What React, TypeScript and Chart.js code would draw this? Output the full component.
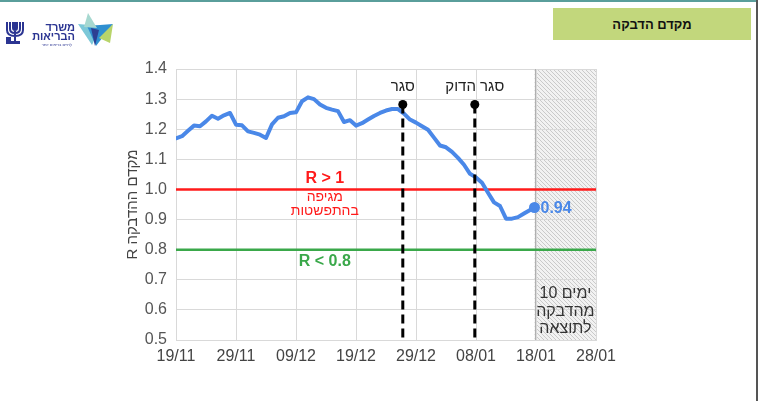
import React, { useEffect, useRef } from "react";
import { Chart, registerables } from "chart.js";

Chart.register(...registerables);

// ---- data ----
const xTickLabels = ["19/11", "29/11", "09/12", "19/12", "29/12", "08/01", "18/01", "28/01"];
const yTicks = [0.5, 0.6, 0.7, 0.8, 0.9, 1.0, 1.1, 1.2, 1.3, 1.4];
// daily R values from 19/11 (day 0) onward
const rValues = [
  1.17, 1.177, 1.195, 1.212, 1.21, 1.226, 1.245, 1.235, 1.246, 1.254,
  1.215, 1.213, 1.193, 1.188, 1.182, 1.171, 1.216, 1.238, 1.243, 1.254,
  1.256, 1.293, 1.306, 1.3, 1.282, 1.271, 1.265, 1.26, 1.224, 1.23,
  1.212, 1.22, 1.232, 1.244, 1.254, 1.262, 1.267, 1.267, 1.252, 1.232,
  1.222, 1.21, 1.198, 1.172, 1.146, 1.14, 1.125, 1.105, 1.082, 1.052,
  1.04, 1.022, 0.989, 0.957, 0.945, 0.903, 0.903, 0.908, 0.92,
];
const reportDay = 59.75;
const reportValue = 0.94;
const lockdownDays = [37.8, 49.8];
const lockdownLabels = ["סגר", "סגר הדוק"];
const lockdownTop = 1.282;
const thresholdHigh = 1.0;
const thresholdLow = 0.8;

const FONT = "'Liberation Sans', Arial, 'DejaVu Sans', sans-serif";
const BLUE = "#4a88e8";

function makeHatch(ctx: CanvasRenderingContext2D) {
  const pc = document.createElement("canvas");
  pc.width = 4;
  pc.height = 4;
  const p = pc.getContext("2d")!;
  p.fillStyle = "#f2f2f2";
  p.fillRect(0, 0, 4, 4);
  p.strokeStyle = "#cacaca";
  p.lineWidth = 1;
  p.beginPath();
  p.moveTo(-1, -1);
  p.lineTo(5, 5);
  p.moveTo(-1, 3);
  p.lineTo(1, 5);
  p.moveTo(3, -1);
  p.lineTo(5, 1);
  p.stroke();
  return ctx.createPattern(pc, "repeat");
}

const annotPlugin = {
  id: "annot",
  beforeDraw(chart: any) {
    const { ctx, chartArea, scales } = chart;
    const x = scales.x;
    ctx.save();
    ctx.fillStyle = "#ffffff";
    ctx.fillRect(0, 0, chart.width, chart.height);
    const x0 = x.getPixelForValue(reportDay);
    const pat = makeHatch(ctx);
    if (pat) ctx.fillStyle = pat;
    ctx.fillRect(x0, chartArea.top, chartArea.right - x0, chartArea.bottom - chartArea.top);
    ctx.restore();
  },
  beforeDatasetsDraw(chart: any) {
    const { ctx, chartArea, scales } = chart;
    const x = scales.x, y = scales.y;
    ctx.save();
    const x0 = x.getPixelForValue(reportDay);
    ctx.strokeStyle = "#b0b0b0";
    ctx.lineWidth = 1;
    ctx.beginPath();
    ctx.moveTo(Math.round(x0) + 0.5, chartArea.top);
    ctx.lineTo(Math.round(x0) + 0.5, chartArea.bottom);
    ctx.stroke();
    // threshold lines
    ctx.lineWidth = 2.5;
    ctx.strokeStyle = "#ff1a1a";
    ctx.beginPath();
    ctx.moveTo(chartArea.left, y.getPixelForValue(thresholdHigh));
    ctx.lineTo(chartArea.right, y.getPixelForValue(thresholdHigh));
    ctx.stroke();
    ctx.strokeStyle = "#3aa84a";
    ctx.beginPath();
    ctx.moveTo(chartArea.left, y.getPixelForValue(thresholdLow));
    ctx.lineTo(chartArea.right, y.getPixelForValue(thresholdLow));
    ctx.stroke();
    ctx.restore();
  },
  afterDatasetsDraw(chart: any) {
    const { ctx, chartArea, scales } = chart;
    const x = scales.x, y = scales.y;
    ctx.save();
    ctx.direction = "ltr";
    // lockdown dashed lines
    lockdownDays.forEach((d, i) => {
      const px = x.getPixelForValue(d);
      const py = y.getPixelForValue(lockdownTop);
      ctx.setLineDash([9, 5]);
      ctx.lineWidth = 3;
      ctx.strokeStyle = "#000";
      ctx.beginPath();
      ctx.moveTo(px, py);
      ctx.lineTo(px, chartArea.bottom);
      ctx.stroke();
      ctx.setLineDash([]);
      ctx.fillStyle = "#000";
      ctx.beginPath();
      ctx.arc(px, py, 4.5, 0, Math.PI * 2);
      ctx.fill();
      ctx.font = `15px ${FONT}`;
      ctx.fillStyle = "#222";
      ctx.textAlign = "center";
      ctx.textBaseline = "middle";
      ctx.fillText(lockdownLabels[i], px, y.getPixelForValue(1.341));
    });
    // threshold labels
    const lx = x.getPixelForValue(24.8);
    ctx.textAlign = "center";
    ctx.textBaseline = "middle";
    ctx.fillStyle = "#ff1a1a";
    ctx.font = `bold 16px ${FONT}`;
    ctx.fillText("R > 1", lx, y.getPixelForValue(1.037));
    ctx.font = `14px ${FONT}`;
    ctx.fillText("מגיפה", lx, y.getPixelForValue(0.974));
    ctx.fillText("בהתפשטות", lx, y.getPixelForValue(0.928));
    ctx.fillStyle = "#3aa84a";
    ctx.font = `bold 16px ${FONT}`;
    ctx.fillText("R < 0.8", lx, y.getPixelForValue(0.762));
    // last value label
    ctx.fillStyle = BLUE;
    ctx.textAlign = "left";
    ctx.fillText(reportValue.toFixed(2), x.getPixelForValue(reportDay) + 6, y.getPixelForValue(reportValue) + 1);
    // hatch note
    const hx = x.getPixelForValue(64.9);
    ctx.fillStyle = "#333";
    ctx.font = `16px ${FONT}`;
    // first line: number on the left, word on the right
    const numTxt = "10";
    const wordTxt = "ימים";
    const gap = 4.5;
    const wNum = ctx.measureText(numTxt).width;
    const wWord = ctx.measureText(wordTxt).width;
    const startX = hx - (wNum + gap + wWord) / 2;
    const y1 = y.getPixelForValue(0.653);
    ctx.textAlign = "left";
    ctx.fillText(numTxt, startX, y1);
    ctx.fillText(wordTxt, startX + wNum + gap, y1);
    ctx.textAlign = "center";
    ctx.fillText("מהדבקה", hx, y.getPixelForValue(0.594));
    ctx.fillText("לתוצאה", hx, y.getPixelForValue(0.537));
    // y-axis title
    ctx.translate(chartArea.left - 43, (chartArea.top + chartArea.bottom) / 2);
    ctx.rotate(-Math.PI / 2);
    ctx.fillStyle = "#444";
    ctx.font = `15px ${FONT}`;
    ctx.textAlign = "center";
    ctx.fillText("R מקדם ההדבקה", 0, 0);
    ctx.restore();
  },
};

function Logo() {
  return (
    <svg width="120" height="60" style={{ position: "absolute", left: 0, top: 0 }}>
      {/* menorah emblem */}
      <path d="M7 22 v8 q0 6 8 6 q8 0 8 -6 v-8 M10 22 v7 q0 4 5 4 q5 0 5 -4 v-7 M13 22 v6 q0 2 2 2 q2 0 2 -2 v-6 M15 22 v20"
        stroke="#2b3592" strokeWidth="2" fill="none" />
      <rect x="6" y="37" width="5" height="7" fill="#2b3592" />
      <rect x="10" y="41" width="10" height="3" fill="#2b3592" />
      {/* star */}
      <polygon points="78,24 101,26 92,45" fill="#7cc8d8" />
      <polygon points="87,26 113,24 96,46" fill="#2f8fd0" />
      <polygon points="88,13 97,28 84,27" fill="#a6d8d0" />
      <polygon points="91,28 99,30 95,46" fill="#2d3f92" />
      <polygon points="99,38 113,24 110,43" fill="#b8d46a" />
      <text x="75" y="31" fontSize="11" fontWeight="bold" fill="#2b3592" textAnchor="end" fontFamily={FONT}>משרד</text>
      <text x="75" y="40" fontSize="11" fontWeight="bold" fill="#2b3592" textAnchor="end" fontFamily={FONT}>הבריאות</text>
      <text x="72" y="46" fontSize="4" fill="#2b3592" textAnchor="end" fontFamily={FONT}>לחיים בריאים יותר</text>
    </svg>
  );
}

export default function App() {
  const ref = useRef<HTMLCanvasElement | null>(null);
  useEffect(() => {
    if (!ref.current) return;
    const points = rValues.map((v, i) => ({ x: i, y: v }));
    points.push({ x: reportDay, y: reportValue });
    const chart = new Chart(ref.current, {
      type: "line",
      data: {
        datasets: [
          {
            data: points,
            borderColor: BLUE,
            backgroundColor: BLUE,
            borderWidth: 4,
            tension: 0,
            borderJoinStyle: "round",
            borderCapStyle: "round",
            pointRadius: points.map((_, i) => (i === points.length - 1 ? 5.5 : 0)),
            pointHoverRadius: 0,
            pointBackgroundColor: BLUE,
            pointBorderWidth: 0,
          },
        ],
      },
      options: {
        responsive: false,
        animation: false,
        events: [],
        layout: { padding: { left: 0, right: 162, top: 69, bottom: 30 } },
        plugins: { legend: { display: false }, tooltip: { enabled: false } },
        scales: {
          x: {
            type: "linear",
            min: 0,
            max: 70,
            afterFit: (s: any) => { s.height = 31; },
            afterBuildTicks: (s: any) => {
              s.ticks = xTickLabels.map((_, i) => ({ value: i * 10 }));
            },
            ticks: {
              callback: (v: any) => xTickLabels[Math.round(Number(v) / 10)] ?? "",
              font: { size: 16, family: FONT },
              color: "#444",
              padding: 7,
              maxRotation: 0,
              autoSkip: false,
            },
            grid: { color: "#d9d9d9", lineWidth: 1, drawTicks: false },
            border: { color: "#d9d9d9" },
          },
          y: {
            type: "linear",
            min: 0.5,
            max: 1.4,
            afterFit: (s: any) => { s.width = 176; },
            afterBuildTicks: (s: any) => {
              s.ticks = yTicks.map((v) => ({ value: v }));
            },
            ticks: {
              callback: (v: any) => Number(v).toFixed(1),
              font: { size: 16, family: FONT },
              color: "#555",
              padding: 9,
            },
            grid: { color: "#d9d9d9", lineWidth: 1, drawTicks: false },
            border: { color: "#d9d9d9" },
          },
        },
      },
      plugins: [annotPlugin],
    } as any);
    return () => chart.destroy();
  }, []);

  return (
    <div style={{ position: "fixed", left: 0, top: 0, width: 758, height: 401, background: "#fff", overflow: "hidden" }}>
      <canvas ref={ref} width={758} height={401} style={{ position: "absolute", left: 0, top: 0, width: 758, height: 401 }} />
      <div style={{ position: "absolute", left: 0, top: 0, width: 758, height: 2, background: "#5a9e9b" }} />
      <div style={{ position: "absolute", left: 756, top: 0, width: 2, height: 401, background: "#555" }} />
      <div
        style={{
          position: "absolute", left: 553, top: 8, width: 198, height: 32, background: "#c2d77c",
          display: "flex", alignItems: "center", justifyContent: "center",
          fontFamily: FONT, fontWeight: "bold", fontSize: 13, color: "#111", direction: "rtl",
        }}
      >
        מקדם הדבקה
      </div>
      <Logo />
    </div>
  );
}
